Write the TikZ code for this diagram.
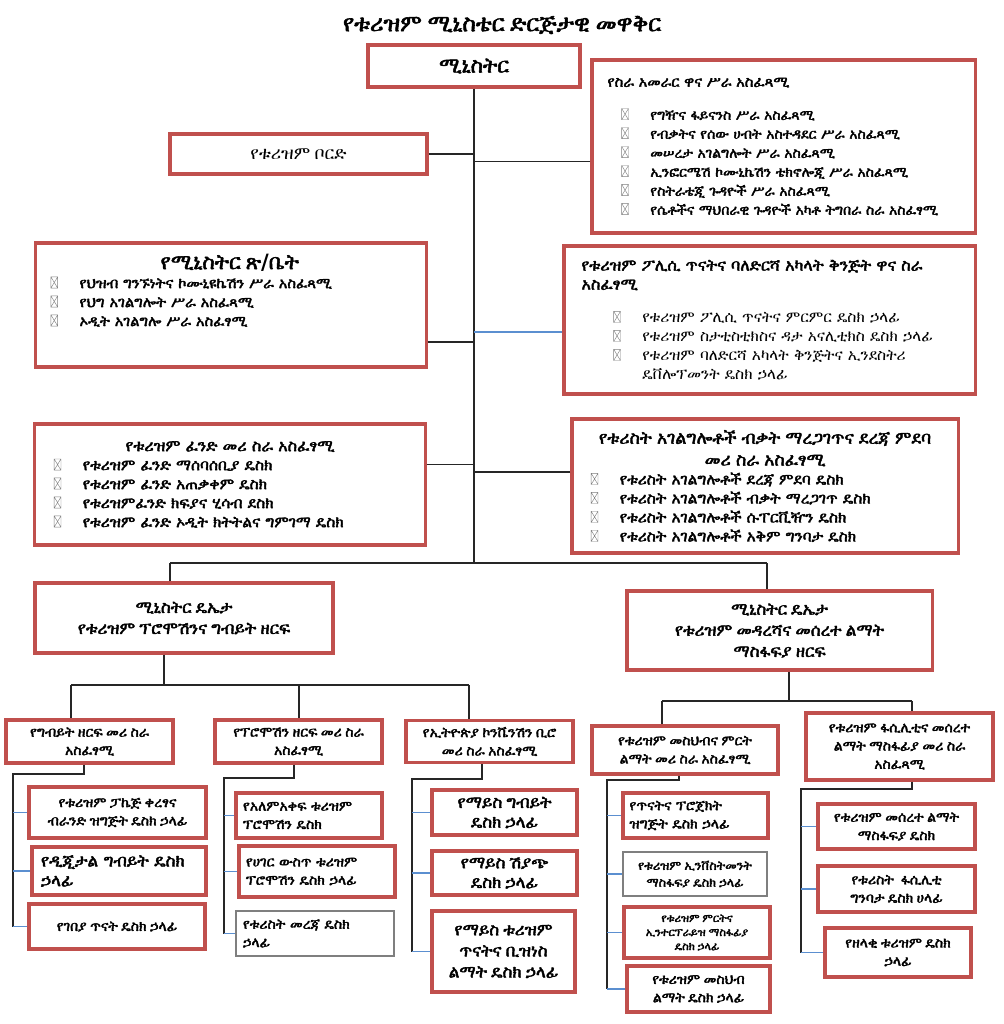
\documentclass[tikz,border=0pt]{standalone}
\usepackage{fontspec}
\setmainfont{FreeSerif}[BoldFont=FreeSerif,BoldFeatures={FakeBold=2.5}]
\newfontfamily\latin{DejaVu Sans}
\definecolor{rouge}{HTML}{C0504D}
\definecolor{bleu}{HTML}{5B8FD0}
\definecolor{gris}{HTML}{7F7F7F}
\tikzstyle{cadre}=[rectangle,draw=rouge,line width=2.2pt,fill=white,
text=black,inner sep=0.15cm,align=center,font=\fontsize{10}{13}\selectfont\bfseries]
\tikzstyle{cadregris}=[cadre,draw=gris,line width=0.8pt]
\tikzstyle{liste}=[cadre,align=left,font=\fontsize{10}{13.5}\selectfont\bfseries]
\tikzstyle{trait}=[draw=black!85,line width=0.9pt]
\tikzstyle{traitbleu}=[draw=bleu,line width=0.9pt]
\newcommand{\puce}[1][0.35cm]{\hspace*{#1}\makebox[0.72cm][l]{\tikz[baseline=0pt]\draw[draw=gris,line width=0.3pt]
(0cm,0cm) rectangle (0.17cm,0.28cm) (0cm,0cm)--(0.17cm,0.28cm) (0cm,0.28cm)--(0.17cm,0cm);}}

\begin{document}
\begin{tikzpicture}[x=0.025cm,y=-0.025cm]
\path[fill=white,use as bounding box] (0,0) rectangle (1004,1024);
\node[font=\fontsize{16.5}{20}\selectfont\bfseries] (titre) at (502,25) {የቱሪዝም ሚኒስቴር ድርጅታዊ መዋቅር};
\node[cadre,minimum width=5.3cm,minimum height=1.05cm,font=\fontsize{15}{16}\selectfont\bfseries] (min) at (474,66) {ሚኒስትር};
\node[liste,minimum width=9.575cm,minimum height=4.325cm,text width=9.2cm] (dir) at (783.5,146.5) {%
{\fontsize{10.5}{13}\selectfont\hspace*{0.2cm}የስራ አመራር ዋና ሥራ አስፈጻሚ}\\[0.35cm]
\puce[0.55cm]የግዥና ፋይናንስ ሥራ አስፈጻሚ\\
\puce[0.55cm]የብቃትና የሰው ሀብት አስተዳደር ሥራ አስፈጻሚ\\
\puce[0.55cm]መሠረታ አገልግሎት ሥራ አስፈጻሚ\\
\puce[0.55cm]ኢንፎርሜሽ ኮሙኒኬሽን ቴክኖሎጂ ሥራ አስፈጻሚ\\
\puce[0.55cm]የስትራቴጂ ጉዳዮች ሥራ አስፈጻሚ\\
\puce[0.55cm]የሴቶችና ማህበራዊ ጉዳዮች አካቶ ትግበራ ስራ አስፈፃሚ};
\node[cadre,minimum width=6.425cm,minimum height=1cm,font=\fontsize{12.5}{13}\selectfont] (bord) at (298.5,154) {የቱሪዝም ቦርድ};
\node[cadre,minimum width=9.75cm,minimum height=3.1cm] (cab) at (231,305) {};
\node[anchor=north west,inner sep=0pt,text width=9.25cm,align=left,font=\fontsize{10.5}{13.5}\selectfont\bfseries] (cabtxt) at ([xshift=0.25cm,yshift=-0.3cm]cab.north west) {%
{\centering\fontsize{15}{18}\selectfont የሚኒስትር ጽ{\latin /}ቤት\par}
\puce[0.15cm]የህዝብ ግንኙነትና ኮሙኒዩኬሽን ሥራ አስፈጻሚ\\
\puce[0.15cm]የህግ አገልግሎት ሥራ አስፈጻሚ\\
\puce[0.15cm]ኦዲት አገልግሎ ሥራ አስፈፃሚ};
\node[liste,minimum width=10.275cm,minimum height=3.7cm,text width=9.9cm,font=\fontsize{11}{13.5}\selectfont] (pol) at (769.5,320) {%
{\bfseries\fontsize{11.5}{14}\selectfont\hspace*{0.25cm}የቱሪዝም ፖሊሲ ጥናትና ባለድርሻ አካላት ቅንጅት ዋና ስራ\\
\hspace*{0.25cm}አስፈፃሚ}\\[0.35cm]
\puce[1.05cm]የቱሪዝም ፖሊሲ ጥናትና ምርምር ዴስክ ኃላፊ\\
\puce[1.05cm]የቱሪዝም ስታቲስቲክስና ዳታ አናሊቲክስ ዴስክ ኃላፊ\\
\puce[1.05cm]የቱሪዝም ባለድርሻ አካላት ቅንጅትና ኢንደስትሪ\\
\hspace*{1.77cm}ዴቨሎፕመንት ዴስክ ኃላፊ};
\node[liste,minimum width=9.75cm,minimum height=3.025cm,text width=9.4cm,font=\fontsize{11}{13.5}\selectfont\bfseries] (fond) at (230,484.5) {%
{\centering\fontsize{11.5}{14}\selectfont የቱሪዝም ፈንድ መሪ ስራ አስፈፃሚ\par}
\puce[0.3cm]የቱሪዝም ፈንድ ማሰባሰቢያ ዴስክ\\
\puce[0.3cm]የቱሪዝም ፈንድ አጠቃቀም ዴስክ\\
\puce[0.3cm]የቱሪዝምፈንድ ክፍያና ሂሳብ ደስክ\\
\puce[0.3cm]የቱሪዝም ፈንድ ኦዲት ክትትልና ግምገማ ዴስክ};
\node[liste,minimum width=9.65cm,minimum height=3.35cm,text width=9.3cm,font=\fontsize{11}{13.5}\selectfont\bfseries] (qual) at (765,486) {%
{\centering\fontsize{12.5}{15.5}\selectfont የቱሪስት አገልግሎቶች ብቃት ማረጋገጥና ደረጃ ምደባ\\መሪ ስራ አስፈፃሚ\par}
\puce[0.3cm]የቱሪስት አገልግሎቶች ደረጃ ምደባ ዴስክ\\
\puce[0.3cm]የቱሪስት አገልግሎቶች ብቃት ማረጋገጥ ዴስክ\\
\puce[0.3cm]የቱሪስት አገልግሎቶች ሱፐርቪዥን ዴስክ\\
\puce[0.3cm]የቱሪስት አገልግሎቶች አቅም ግንባታ ዴስክ};
\node[cadre,minimum width=7.45cm,minimum height=1.75cm,font=\fontsize{12}{15}\selectfont\bfseries] (dep1) at (184,618) {ሚኒስትር ዴኤታ\\የቱሪዝም ፕሮሞሽንና ግብይት ዘርፍ};
\node[cadre,minimum width=7.625cm,minimum height=1.975cm,font=\fontsize{12}{15}\selectfont\bfseries] (dep2) at (779.5,630.5) {ሚኒስትር ዴኤታ\\የቱሪዝም መዳረሻና መሰረተ ልማት\\ማስፋፍያ ዘርፍ};

% sous-directions
\node[cadre,minimum width=4.175cm,minimum height=1.075cm] (A) at (89.5,741.5) {የግብይት ዘርፍ መሪ ስራ\\አስፈፃሚ};
\node[cadre,minimum width=4.175cm,minimum height=1.075cm] (B) at (298.5,741.5) {የፕሮሞሽን ዘርፍ መሪ ስራ\\አስፈፃሚ};
\node[cadre,minimum width=4.175cm,minimum height=1.05cm] (C) at (489.5,741.5) {የኢትዮጵያ ኮንቬንሽን ቢሮ\\መሪ ስራ አስፈፃሚ};
\node[cadre,minimum width=4.65cm,minimum height=1.2cm] (D) at (685,750) {የቱሪዝም መስህብና ምርት\\ልማት መሪ ስራ አስፈፃሚ};
\node[cadre,minimum width=4.675cm,minimum height=1.675cm] (E) at (899.5,746.5) {የቱሪዝም ፋሲሊቲና መሰረተ\\ልማት ማስፋፊያ መሪ ስራ\\አስፈጻሚ};

% desks
\node[cadre,minimum width=4.425cm,minimum height=1.275cm] (A1) at (117.5,812.5) {የቱሪዝም ፓኬጅ ቀረፃና\\ብራንድ ዝግጅት ዴስክ ኃላፊ};
\node[cadre,minimum width=4.35cm,minimum height=1.2cm,text width=3.9cm,align=left,font=\fontsize{12}{14}\selectfont\bfseries] (A2) at (119,871) {የዲጂታል ግብይት ዴስክ\\ኃላፊ};
\node[cadre,minimum width=4.4cm,minimum height=1.125cm] (A3) at (117,926.5) {የገበያ ጥናት ዴስክ ኃላፊ};
\node[cadre,minimum width=3.65cm,minimum height=1.125cm,text width=3.3cm,align=left] (B1) at (309,815.5) {የአለምአቀፍ ቱሪዝም\\ፕሮሞሽን ዴስክ};
\node[cadre,minimum width=3.9cm,minimum height=1.275cm,text width=3.55cm,align=left] (B2) at (317,871.5) {የሀገር ውስጥ ቱሪዝም\\ፕሮሞሽን ዴስክ ኃላፊ};
\node[cadregris,minimum width=3.95cm,minimum height=1.125cm,text width=3.6cm,align=left] (B3) at (315,933.5) {የቱሪስት መረጃ ዴስክ\\ኃላፊ};
\node[cadre,minimum width=3.625cm,minimum height=1.125cm,font=\fontsize{12}{14}\selectfont\bfseries] (C1) at (504.5,812.5) {የማይስ ግብይት\\ዴስክ ኃላፊ};
\node[cadre,minimum width=3.625cm,minimum height=1.1cm,font=\fontsize{12}{14}\selectfont\bfseries] (C2) at (504.5,873) {የማይስ ሽያጭ\\ዴስክ ኃላፊ};
\node[cadre,minimum width=3.575cm,minimum height=2.025cm,font=\fontsize{12}{15}\selectfont\bfseries] (C3) at (503.5,951.5) {የማይስ ቱሪዝም\\ጥናትና ቢዝነስ\\ልማት ዴስክ ኃላፊ};
\node[cadre,minimum width=3.625cm,minimum height=1.125cm,text width=3.3cm,align=left] (D1) at (695.5,815.5) {የጥናትና ፕሮጀክት\\ዝግጅት ዴስክ ኃላፊ};
\node[cadregris,minimum width=3.6cm,minimum height=1.1cm,font=\fontsize{9}{12}\selectfont\bfseries] (D2) at (695,874) {የቱሪዝም ኢንቨስትመንት\\ማስፋፍያ ዴስክ ኃላፊ};
\node[cadre,minimum width=3.65cm,minimum height=1.275cm,font=\fontsize{8}{10}\selectfont\bfseries] (D3) at (697,932.5) {የቱሪዝም ምርትና\\ኢንተርፕራይዝ ማስፋፊያ\\ዴስክ ኃላፊ};
\node[cadre,minimum width=3.575cm,minimum height=1.15cm] (D4) at (698.5,989) {የቱሪዝም መስህብ\\ልማት ዴስክ ኃላፊ};
\node[cadre,minimum width=3.925cm,minimum height=1.125cm] (E1) at (896.5,826.5) {የቱሪዝም መሰረተ ልማት\\ማስፋፍያ ዴስክ};
\node[cadre,minimum width=3.925cm,minimum height=1.15cm] (E2) at (896.5,889) {የቱሪስት \ ፋሲሊቲ\\ግንባታ ዴስክ ሀላፊ};
\node[cadre,minimum width=3.65cm,minimum height=1.225cm] (E3) at (898,952.5) {የዘላቂ ቱሪዝም ዴስክ\\ኃላፊ};

% liaisons du haut
\coordinate (jc) at (474,563);
\coordinate (jd1) at (170,563);
\coordinate (jd2) at (767,563);
\draw[trait] (min.south) -- (jc);
\draw[trait] (bord.east) -- (bord.east -| jc);
\draw[trait] ([yshift=-0.375cm]dir.west) -- ([yshift=-0.375cm]dir.west -| jc);
\draw[trait] ([yshift=-0.925cm]cab.east) -- ([yshift=-0.925cm]cab.east -| jc);
\draw[traitbleu] ([yshift=-0.3cm]pol.west) -- ([yshift=-0.3cm]pol.west -| jc);
\draw[trait] ([yshift=0.5cm]fond.east) -- ([yshift=0.5cm]fond.east -| jc);
\draw[trait] ([yshift=0.35cm]qual.west) -- ([yshift=0.35cm]qual.west -| jc);
\draw[trait] (jd1) -- (jd2);
\draw[trait] (jd1) -- (jd1 |- dep1.north);
\draw[trait] (jd2) -- (jd2 |- dep2.north);

% branche promotion
\coordinate (b1) at (164,685);
\coordinate (bA) at (71,685);
\coordinate (bB) at (299,685);
\coordinate (bC) at (469,685);
\draw[trait] (b1 |- dep1.south) -- (b1);
\draw[trait] (bA) -- (bC);
\draw[trait] (bA) -- (bA |- A.north);
\draw[trait] (bB) -- (bB |- B.north);
\draw[trait] (bC) -- (bC |- C.north);

% branche destinations
\coordinate (b2) at (789,701);
\coordinate (bD) at (662,701);
\coordinate (bE) at (912,701);
\draw[trait] (b2 |- dep2.south) -- (b2);
\draw[trait] (bD) -- (bE);
\draw[trait] (bD) -- (bD |- D.north);
\draw[trait] (bE) -- (bE |- E.north);

% desks A
\coordinate (cA) at (84,774);
\coordinate (sA) at (13,774);
\draw[trait] (cA |- A.south) -- (cA) -- (sA) -- (sA |- A3.west);
\draw[traitbleu] (sA |- A1.west) -- (A1.west);
\draw[traitbleu] (sA |- A2.west) -- (A2.west);
\draw[traitbleu] (sA |- A3.west) -- (A3.west);
% desks B
\coordinate (cB) at (294,778);
\coordinate (sB) at (224,778);
\draw[trait] (cB |- B.south) -- (cB) -- (sB) -- (sB |- B3.west);
\draw[traitbleu] (sB |- B1.west) -- (B1.west);
\draw[traitbleu] (sB |- B2.west) -- (B2.west);
\draw[traitbleu] (sB |- B3.west) -- (B3.west);
% desks C
\coordinate (cC) at (482,779);
\coordinate (sC) at (412,779);
\draw[trait] (cC |- C.south) -- (cC) -- (sC) -- (sC |- C3.west);
\draw[traitbleu] (sC |- C1.west) -- (C1.west);
\draw[traitbleu] (sC |- C2.west) -- (C2.west);
\draw[traitbleu] (sC |- C3.west) -- (C3.west);
% desks D
\coordinate (cD) at (679,780);
\coordinate (sD) at (607,780);
\draw[trait] (cD |- D.south) -- (cD) -- (sD) -- (sD |- D4.west);
\draw[traitbleu] (sD |- D1.west) -- (D1.west);
\draw[traitbleu] (sD |- D2.west) -- (D2.west);
\draw[traitbleu] (sD |- D3.west) -- (D3.west);
\draw[traitbleu] (sD |- D4.west) -- (D4.west);
% desks E
\coordinate (cE) at (912,789);
\coordinate (sE) at (801,789);
\draw[trait] (cE |- E.south) -- (cE) -- (sE) -- (sE |- E3.west);
\draw[traitbleu] (sE |- E1.west) -- (E1.west);
\draw[traitbleu] (sE |- E2.west) -- (E2.west);
\draw[traitbleu] (sE |- E3.west) -- (E3.west);
\end{tikzpicture}
\end{document}
